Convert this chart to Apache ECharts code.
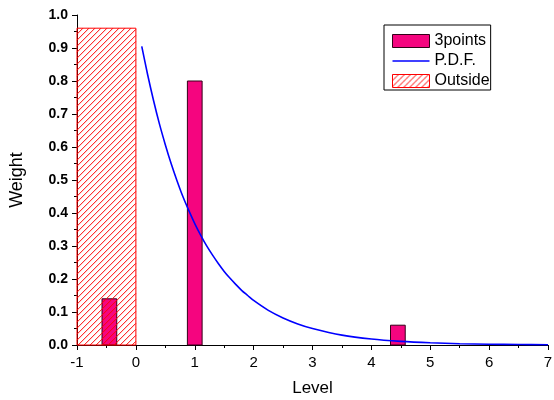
<!DOCTYPE html>
<html><head><meta charset="utf-8">
<script src="https://cdn.jsdelivr.net/npm/echarts@6/dist/echarts.min.js"></script>
<style>html,body{margin:0;padding:0;background:#fff}#c{width:554px;height:400px}</style>
</head><body><div id="c"></div>
<script>
// Data
var barX = [-0.45, 1, 4.45];
var barY = [0.14, 0.80, 0.06];
var barHalfWidth = 0.125;
var outsideRange = [-1, 0];
var outsideHeight = 0.96;
var pdfX = [0.1,0.2,0.3,0.4,0.5,0.6,0.7,0.8,0.9,1.0,1.1,1.2,1.3,1.4,1.5,1.6,1.7,1.8,1.9,2.0,2.25,2.5,2.75,3.0,3.5,4.0,4.5,5.0,5.5,6.0,6.5,7.0];
var pdfY = [0.905,0.819,0.741,0.670,0.607,0.549,0.497,0.449,0.407,0.368,0.333,0.301,0.273,0.247,0.223,0.202,0.183,0.165,0.150,0.135,0.105,0.082,0.064,0.050,0.030,0.018,0.011,0.0067,0.004,0.0025,0.0015,0.0009];

var PINK = '#f5057f', PINK_BORDER = '#330018', RED = '#ff0000', BLUE = '#0000ff';

function hatchCanvas(){
  var c = document.createElement('canvas');
  c.width = 6; c.height = 6;
  var g = c.getContext('2d');
  g.fillStyle = '#fff'; g.fillRect(0,0,6,6);
  g.strokeStyle = RED; g.lineWidth = 1;
  g.beginPath();
  g.moveTo(-1,7); g.lineTo(7,-1);
  g.moveTo(-4,4); g.lineTo(4,-4);
  g.moveTo(2,10); g.lineTo(10,2);
  g.stroke();
  return c;
}
var hatchFill = {image: hatchCanvas(), repeat: 'repeat'};
var font = 'Liberation Sans, Arial, sans-serif';

var chart = echarts.init(document.getElementById('c'));
chart.setOption({
  animation: false,
  textStyle: {fontFamily: font},
  grid: {left: 77, right: 6, top: 15, bottom: 55, containLabel: false, outerBoundsMode: 'none'},
  legend: {
    orient: 'vertical', left: 384, top: 25,
    itemWidth: 37, itemHeight: 13, itemGap: 4,
    padding: [8, 1, 1, 8],
    borderColor: '#000', borderWidth: 1,
    textStyle: {fontSize: 16, lineHeight: 14, color: '#000', fontFamily: font},
    data: [
      {name: '3points', icon: 'rect', itemStyle: {color: PINK, borderColor: PINK_BORDER, borderWidth: 1}},
      {name: 'P.D.F.', icon: 'path://M0,5 L40,5 L40,6.6 L0,6.6 Z', itemStyle: {color: BLUE}},
      {name: 'Outside', icon: 'rect', itemStyle: {color: hatchFill, borderColor: RED, borderWidth: 1}}
    ]
  },
  xAxis: {
    type: 'value', min: -1, max: 7, interval: 1,
    name: 'Level', nameLocation: 'middle', nameGap: 35,
    nameTextStyle: {fontSize: 17, color: '#000', fontFamily: font},
    axisLine: {show: true, onZero: false, lineStyle: {color: '#000', width: 1}},
    axisTick: {show: true, length: 5, lineStyle: {color: '#000'}},
    minorTick: {show: true, splitNumber: 2, length: 3, lineStyle: {color: '#000'}},
    axisLabel: {fontSize: 15, color: '#000', fontFamily: font, margin: 10},
    splitLine: {show: false}
  },
  yAxis: {
    type: 'value', min: 0, max: 1, interval: 0.1,
    name: 'Weight', nameLocation: 'middle', nameGap: 51, nameRotate: 90,
    nameTextStyle: {fontSize: 18, color: '#000', fontFamily: font},
    axisLine: {show: true, onZero: false, lineStyle: {color: '#000', width: 1}},
    axisTick: {show: true, length: 5, lineStyle: {color: '#000'}},
    minorTick: {show: true, splitNumber: 2, length: 3, lineStyle: {color: '#000'}},
    axisLabel: {fontSize: 14, fontWeight: 'bold', color: '#000', fontFamily: font, margin: 9,
      formatter: function(v){return v.toFixed(1);}},
    splitLine: {show: false}
  },
  series: [
    {
      name: '3points', type: 'custom', z: 2,
      data: barX.map(function(x, i){return [x, barY[i]];}),
      renderItem: function(params, api){
        var x = api.value(0), y = api.value(1);
        var p0 = api.coord([x - barHalfWidth, y]);
        var p1 = api.coord([x + barHalfWidth, 0]);
        return {type: 'rect', shape: {x: p0[0], y: p0[1], width: p1[0]-p0[0], height: p1[1]-p0[1]},
          style: {fill: PINK, stroke: PINK_BORDER, lineWidth: 1}};
      },
      itemStyle: {color: PINK}
    },
    {
      name: 'Outside', type: 'custom', z: 3,
      data: [[outsideRange[0], outsideRange[1], outsideHeight]],
      renderItem: function(params, api){
        var p0 = api.coord([api.value(0), api.value(2)]);
        var p1 = api.coord([api.value(1), 0]);
        var x0 = p0[0], y0 = p0[1], x1 = p1[0], y1 = p1[1];
        var children = [];
        var step = 6;
        for (var c = x0 + y0 + step; c < x1 + y1; c += step) {
          var sx = Math.max(x0, c - y1), ex = Math.min(x1, c - y0);
          if (ex <= sx) continue;
          children.push({type: 'line', shape: {x1: sx, y1: c - sx, x2: ex, y2: c - ex},
            style: {stroke: RED, lineWidth: 1}});
        }
        children.push({type: 'rect', shape: {x: x0, y: y0, width: x1 - x0, height: y1 - y0},
          style: {fill: 'none', stroke: RED, lineWidth: 1}});
        return {type: 'group', children: children};
      },
      itemStyle: {color: RED}
    },
    {
      name: 'P.D.F.', type: 'line', z: 4, smooth: 0.3, showSymbol: false, symbol: 'none',
      data: pdfX.map(function(x, i){return [x, pdfY[i]];}),
      lineStyle: {color: BLUE, width: 1.6},
      itemStyle: {color: BLUE}
    }
  ]
});
</script></body></html>
